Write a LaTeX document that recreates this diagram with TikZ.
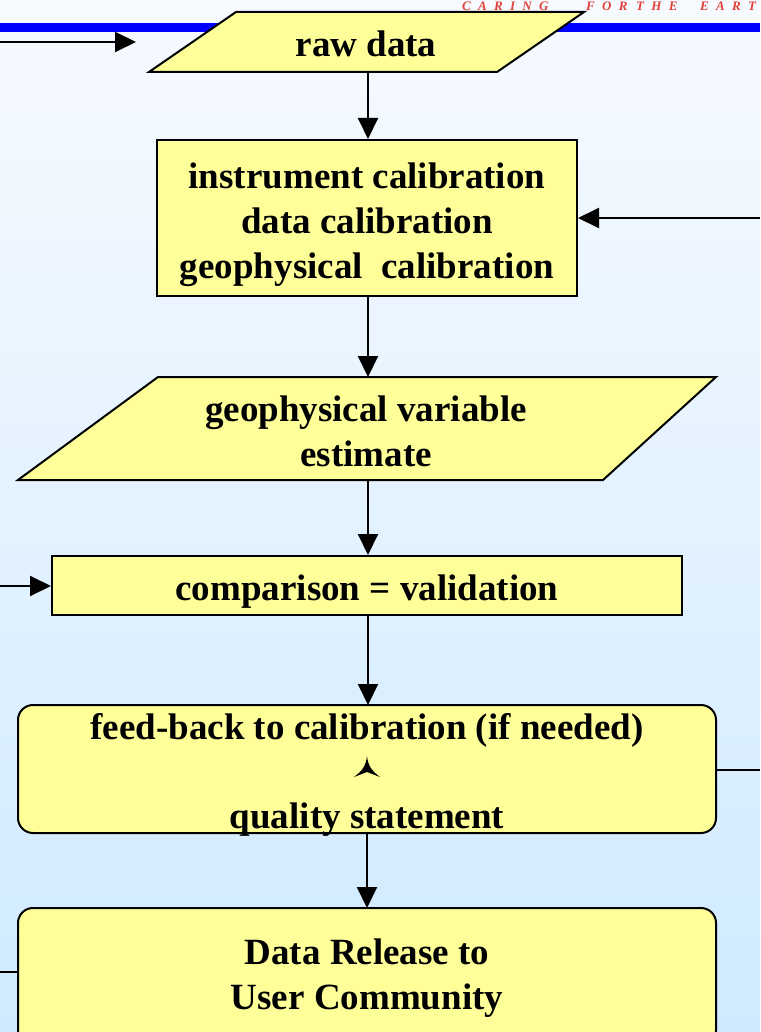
\documentclass[tikz,border=0pt]{standalone}
\usepackage{fontspec}
\setmainfont{Liberation Serif}
\usetikzlibrary{arrows.meta}
\definecolor{bgtop}{HTML}{F7FAFF}
\definecolor{bgbot}{HTML}{CFEAFF}
\definecolor{boxfill}{HTML}{FFFF99}
\definecolor{barblue}{HTML}{0000FF}
\definecolor{caring}{HTML}{E0403A}
\tikzset{
  boxline/.style={draw=black, line width=2pt, fill=boxfill},
  flowtext/.style={font=\fontsize{37}{45}\selectfont\bfseries, align=center, text=black, inner sep=0pt},
  conn/.style={line width=2pt, -{Triangle[length=21pt,width=20pt]}},
  plainconn/.style={line width=2pt},
  caringtext/.style={font=\fontsize{13}{13}\selectfont\bfseries\itshape\addfontfeature{LetterSpace=56}, text=caring, anchor=base west, inner sep=0pt}
}
\begin{document}
\begin{tikzpicture}[x=1pt,y=-1pt]
\useasboundingbox (0,0) rectangle (760,1032);
\clip (0,0) rectangle (760,1032);
% background
\shade[top color=bgtop, bottom color=bgbot] (0,0) rectangle (760,1032);
% top bar and caption
\fill[barblue] (0,23) rectangle (760,32);
\node[caringtext] (c1) at (462,11) {CARING};
\node[caringtext] (c2) at (586,11) {FOR};
\node[caringtext] (c3) at (636,11) {THE};
\node[caringtext] (c4) at (700,11) {EART};
% raw data parallelogram
\draw[boxline] (236,12) -- (584,12) -- (497,72) -- (149,72) -- cycle;
\node[flowtext] (raw) at (366,44) {raw data};
\coordinate (rawb) at (368,72);
\coordinate (inL) at (0,42);
\coordinate (inLend) at (136,42);
% calibration box
\node[boxline, minimum width=420pt, minimum height=156pt, inner sep=0pt] (cal) at (367,218) {};
\node[flowtext] (caltext) at (367,225) {instrument calibration\\data calibration\\geophysical\ \ calibration};
\coordinate (inR) at (760,218);
% geophysical variable parallelogram
\draw[boxline] (158,377) -- (716,377) -- (603,480) -- (18,480) -- cycle;
\node[flowtext] (geo) at (366,431) {geophysical variable\\estimate};
\coordinate (geot) at (368,377);
\coordinate (geob) at (368,480);
% comparison box
\node[boxline, minimum width=630pt, minimum height=59pt, inner sep=0pt] (cmp) at (367,585.5) {};
\node[flowtext] (cmptext) at (367,592) {comparison = validation};
\coordinate (inL2) at (0,586);
% feedback box
\draw[boxline, rounded corners=15pt] (18,705) rectangle (716,833);
\coordinate (fbt) at (368,705);
\coordinate (fbb) at (367,833);
\coordinate (fbr) at (716,770);
\coordinate (outR) at (760,770);
\node[flowtext] (fb1) at (367,730) {feed-back to calibration (if needed)};
\node[flowtext] (fb2) at (367,820) {quality statement};
\fill[black] (367,756) .. controls (368,766) and (372,771) .. (380,777) -- (367,772) -- (354,777) .. controls (362,771) and (366,766) .. (367,756) -- cycle;
% data release box
\draw[boxline, rounded corners=15pt] (18,908) rectangle (716,1045);
\coordinate (drt) at (367,908);
\coordinate (drl) at (18,972);
\coordinate (outL) at (0,972);
\node[flowtext] (dr) at (367,978) {Data Release to\\User Community};
% connectors
\draw[conn] (inL) -- (inLend);
\draw[conn] (rawb) -- (cal.north -| rawb);
\draw[conn] (inR) -- (cal.east |- inR);
\draw[conn] (cal.south -| geot) -- (geot);
\draw[conn] (geob) -- (cmp.north -| geob);
\draw[conn] (inL2) -- (cmp.west |- inL2);
\draw[conn] (cmp.south -| fbt) -- (fbt);
\draw[conn] (fbb) -- (drt);
\draw[plainconn] (fbr) -- (outR);
\draw[plainconn] (outL) -- (drl);
\end{tikzpicture}
\end{document}
